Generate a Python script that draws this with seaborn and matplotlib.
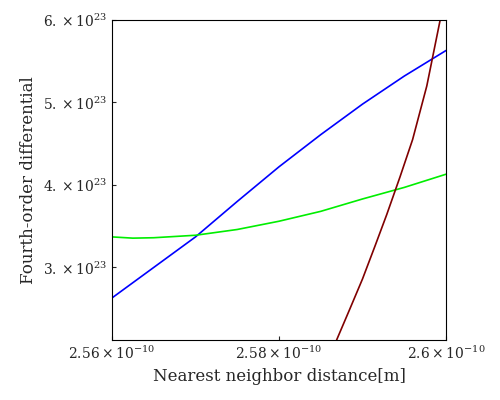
import numpy as np
import matplotlib
matplotlib.use("Agg")
import matplotlib.pyplot as plt
import seaborn as sns
import pandas as pd

blue_x = [2.560, 2.565, 2.570, 2.575, 2.580, 2.585, 2.590, 2.595, 2.600]
blue_y = [2.63, 3.00, 3.37, 3.80, 4.22, 4.61, 4.98, 5.32, 5.63]
green_x = [2.560, 2.5625, 2.565, 2.570, 2.575, 2.580, 2.585, 2.590, 2.595, 2.600]
green_y = [3.37, 3.355, 3.36, 3.39, 3.46, 3.56, 3.68, 3.83, 3.97, 4.13]
red_x = [2.5869, 2.5885, 2.590, 2.5915, 2.5929, 2.5945, 2.596, 2.5977, 2.5994]
red_y = [2.12, 2.50, 2.86, 3.26, 3.64, 4.10, 4.55, 5.20, 6.05]

def frame(xs, ys, name):
    return pd.DataFrame({"x": np.array(xs) * 1e-10, "y": np.array(ys) * 1e23, "s": name})

df = pd.concat([frame(blue_x, blue_y, "b"), frame(green_x, green_y, "g"), frame(red_x, red_y, "r")])

sns.set_style("white")
plt.rcParams["font.family"] = ["DejaVu Serif"]
plt.rcParams["mathtext.fontset"] = "dejavuserif"
fig, ax = plt.subplots(figsize=(5, 4), dpi=100)
fig.subplots_adjust(left=0.224, right=0.892, top=0.95, bottom=0.15)
sns.lineplot(data=df, x="x", y="y", hue="s", palette={"b": "#0000ff", "g": "#00ee00", "r": "#800000"},
             legend=False, ax=ax, lw=1.2)
ax.set_xlim(2.56e-10, 2.60e-10)
ax.set_ylim(2.12e23, 6.0e23)
ax.set_xticks([2.56e-10, 2.58e-10, 2.60e-10])
ax.set_xticklabels([r"$2.56\times10^{-10}$", r"$2.58\times10^{-10}$", r"$2.6\times10^{-10}$"])
ax.set_yticks([3e23, 4e23, 5e23, 6e23])
ax.set_yticklabels([r"$3.\times10^{23}$", r"$4.\times10^{23}$", r"$5.\times10^{23}$", r"$6.\times10^{23}$"])
ax.tick_params(direction="in", length=3, labelsize=10, left=True, bottom=True)
for s in ax.spines.values():
    s.set_color("black")
ax.set_xlabel("Nearest neighbor distance[m]", fontsize=12)
ax.set_ylabel("Fourth-order differential", fontsize=12)
fig.savefig("out.png")
